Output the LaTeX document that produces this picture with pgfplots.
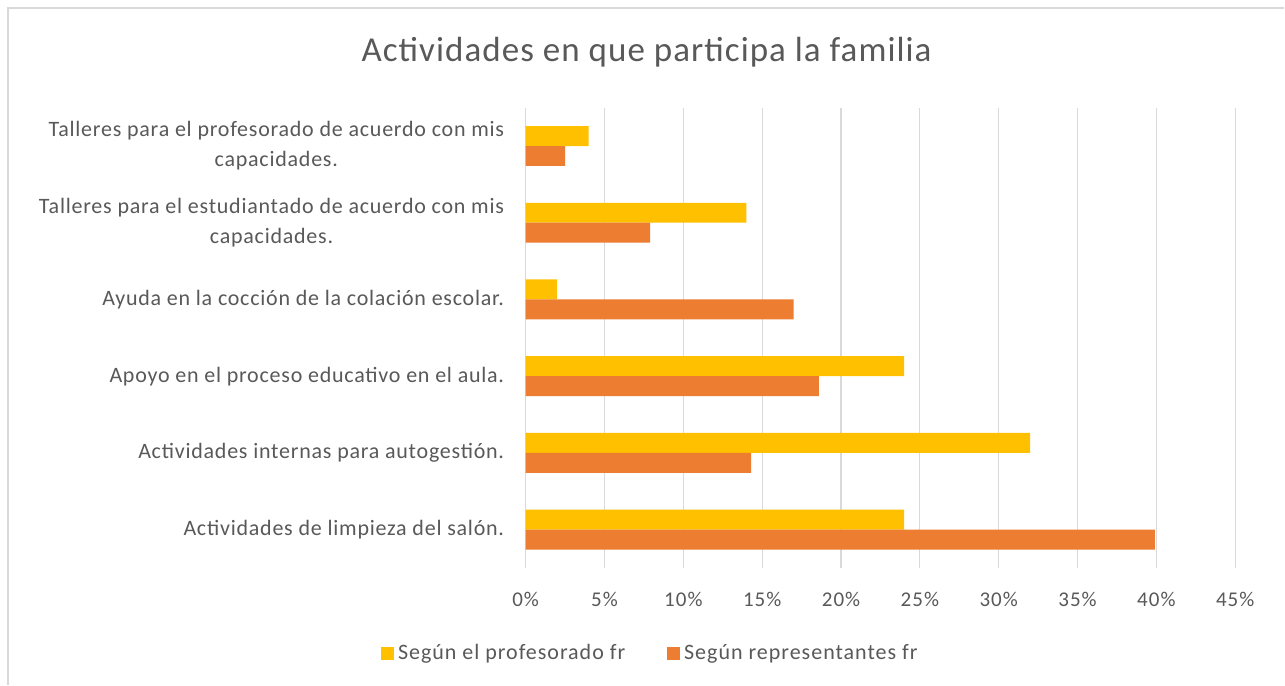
\documentclass[border=0pt]{standalone}
\usepackage{pgfplots}
\pgfplotsset{compat=1.18}
\usepackage{fontspec}
\setmainfont{Carlito}
\newfontfamily\titlefont[LetterSpace=3]{Carlito}
\newfontfamily\labfont[LetterSpace=3.5]{Carlito}
\newfontfamily\tickfont[LetterSpace=5]{Carlito}
\newfontfamily\legfont[LetterSpace=4.5]{Carlito}
\definecolor{cyel}{HTML}{FFC000}
\definecolor{corg}{HTML}{ED7D31}
\definecolor{ctxt}{HTML}{595959}
\definecolor{cgrid}{HTML}{D9D9D9}
\begin{document}
\begin{tikzpicture}
\fill[white] (0pt,0pt) rectangle (642.5pt,342.5pt);
\draw[cgrid,line width=0.8pt] (4pt,0pt) -- (4pt,338.5pt) -- (642.5pt,338.5pt);
\node[text=ctxt,font=\titlefont\fontsize{17.5}{20}\selectfont,anchor=base] at (323.5pt,311.5pt) {Actividades en que participa la familia};
\begin{axis}[
  at={(263pt,58.35pt)}, anchor=south west,
  scale only axis, width=355pt, height=230.3pt,
  xbar, xmin=0, xmax=45, ymin=-0.5, ymax=5.5,
  bar width=0.26,
  axis line style={draw=none},
  tick style={draw=none},
  xmajorgrids, grid style={cgrid,line width=0.6pt},
  xtick={0,5,...,45},
  xticklabel={\pgfmathprintnumber{\tick}\%},
  xticklabel style={text=ctxt,font=\tickfont\fontsize{10.5}{12}\selectfont,yshift=-8.5pt},
  /pgf/number format/assume math mode=true,
  ytick={0,...,5},
  yticklabels={
    Actividades de limpieza del salón.,
    Actividades internas para autogestión.,
    Apoyo en el proceso educativo en el aula.,
    Ayuda en la cocción de la colación escolar.,
    {Talleres para el estudiantado de acuerdo con mis\\capacidades.},
    {Talleres para el profesorado de acuerdo con mis\\capacidades.}},
  yticklabel style={text=ctxt,font=\labfont\fontsize{11}{15}\selectfont,align=center,xshift=-3pt},
  legend style={at={(rel axis cs:0.177,-0.185)},anchor=center,draw=none,legend columns=2,
    font=\legfont\fontsize{11}{13}\selectfont,text=ctxt,
    /tikz/every even column/.append style={column sep=19pt}},
  legend image code/.code={\fill[#1] (0pt,-3.5pt) rectangle (6.5pt,3pt);},
  clip=false,
]
\addplot[fill=cyel,draw=none,bar shift=0.13] coordinates {(24,0) (32,1) (24,2) (2,3) (14,4) (4,5)};
\addplot[fill=corg,draw=none,bar shift=-0.13] coordinates {(39.9,0) (14.3,1) (18.6,2) (17,3) (7.9,4) (2.5,5)};
\legend{Según el profesorado fr,Según representantes fr}
\end{axis}
\end{tikzpicture}
\end{document}
